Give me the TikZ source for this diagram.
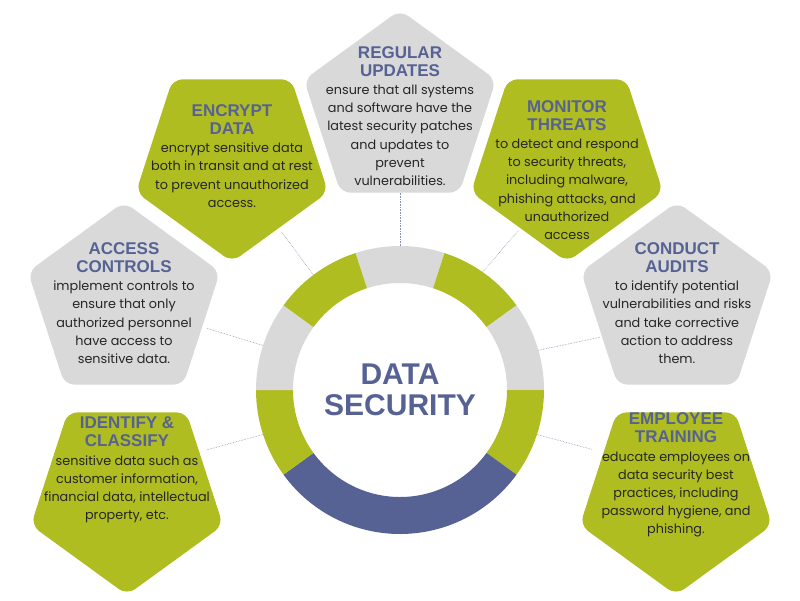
\documentclass[tikz,border=0pt]{standalone}
\usepackage{fontspec}
\setmainfont{Poppins}
\newfontfamily\headfont{Liberation Sans}
\usetikzlibrary{shapes.geometric,calc}
\definecolor{lime}{HTML}{AFBD21}
\definecolor{lgray}{HTML}{D9D9D9}
\definecolor{navy}{HTML}{566293}
\tikzset{
  pent/.style={regular polygon,regular polygon sides=5,minimum size=202pt,inner sep=0pt,rounded corners=10pt},
  pup/.style={pent,fill=lgray},
  pdown/.style={pent,fill=lime,shape border rotate=180},
  txt/.style={align=center,font=\fontsize{12.8}{18.2}\selectfont,text=black!85},
  conn/.style={draw=navy!70,densely dotted,line width=0.6pt},
}
\newcommand{\ttl}[1]{{\headfont\bfseries\fontsize{17}{18}\selectfont\color{navy}#1}}
\newcommand{\seg}[3]{\fill[#3] (400,390) ++(#1:144) arc[start angle=#1,end angle=#2,radius=144] -- ($(400,390)+(#2:107)$) arc[start angle=#2,end angle=#1,radius=107] -- cycle;}
\begin{document}
\begin{tikzpicture}[x=1pt,y=-1pt]
\useasboundingbox (0,0) rectangle (800,600);
\seg{-72}{-108}{lgray}
\seg{-36}{-72}{lime}
\seg{0}{-36}{lgray}
\seg{36}{0}{lime}
\seg{144}{36}{navy}
\seg{180}{144}{lime}
\seg{216}{180}{lgray}
\seg{252}{216}{lime}
\coordinate (ring) at (400,390);
\node[align=center,font=\headfont\bfseries\fontsize{30}{31}\selectfont,text=navy] (ctitle) at (400,390) {DATA\\SECURITY};
% pentagons
\node[pup] (upd) at (400,111) {};
\node[pdown] (enc) at (232,161) {};
\node[pdown] (mon) at (567,161) {};
\node[pup] (acc) at (124,303) {};
\node[pup] (aud) at (677,303) {};
\node[pdown] (ide) at (127,494) {};
\node[pdown] (emp) at (676,494) {};
% texts
\node[txt] (tupd) at (400,116) {\ttl{REGULAR}\\\ttl{UPDATES}\\ensure that all systems\\and software have the\\latest security patches\\and updates to\\prevent\\vulnerabilities.};
\node[txt] (tenc) at (232,156) {\ttl{ENCRYPT}\\\ttl{DATA}\\encrypt sensitive data\\both in transit and at rest\\to prevent unauthorized\\access.};
\node[txt] (tmon) at (567,170) {\ttl{MONITOR}\\\ttl{THREATS}\\to detect and respond\\to security threats,\\including malware,\\phishing attacks, and\\unauthorized\\access};
\node[txt] (tacc) at (124,303) {\ttl{ACCESS}\\\ttl{CONTROLS}\\implement controls to\\ensure that only\\authorized personnel\\have access to\\sensitive data.};
\node[txt] (taud) at (677,303) {\ttl{CONDUCT}\\\ttl{AUDITS}\\to identify potential\\vulnerabilities and risks\\and take corrective\\action to address\\them.};
\node[txt] (tide) at (127,470) {\ttl{IDENTIFY \&}\\\ttl{CLASSIFY}\\sensitive data such as\\customer information,\\financial data, intellectual\\property, etc.};
\node[txt] (temp) at (676,475) {\ttl{EMPLOYEE}\\\ttl{TRAINING}\\educate employees on\\data security best\\practices, including\\password hygiene, and\\phishing.};
% connector end points
\coordinate (rU) at ($(ring)+(-90:144)$);   \coordinate (pU) at ($(upd)+(90:82)$);
\coordinate (rE) at ($(ring)+(-127:144)$);  \coordinate (pE) at ($(enc)+(55:87)$);
\coordinate (rM) at ($(ring)+(-55:144)$);   \coordinate (pM) at ($(mon)+(125:85)$);
\coordinate (rA) at ($(ring)+(-162:144)$);  \coordinate (pA) at ($(acc)+(17:87)$);
\coordinate (rI) at ($(ring)+(162:144)$);   \coordinate (pI) at ($(ide)+(-29:91)$);
\coordinate (rC) at ($(ring)+(-16:144)$);   \coordinate (pC) at ($(aud)+(156:84)$);
\coordinate (rT) at ($(ring)+(18:144)$);    \coordinate (pT) at ($(emp)+(-152:95)$);
\draw[conn] (rU) -- (pU);
\draw[conn] (rE) -- (pE);
\draw[conn] (rM) -- (pM);
\draw[conn] (rA) -- (pA);
\draw[conn] (rI) -- (pI);
\draw[conn] (rC) -- (pC);
\draw[conn] (rT) -- (pT);
\end{tikzpicture}
\end{document}
